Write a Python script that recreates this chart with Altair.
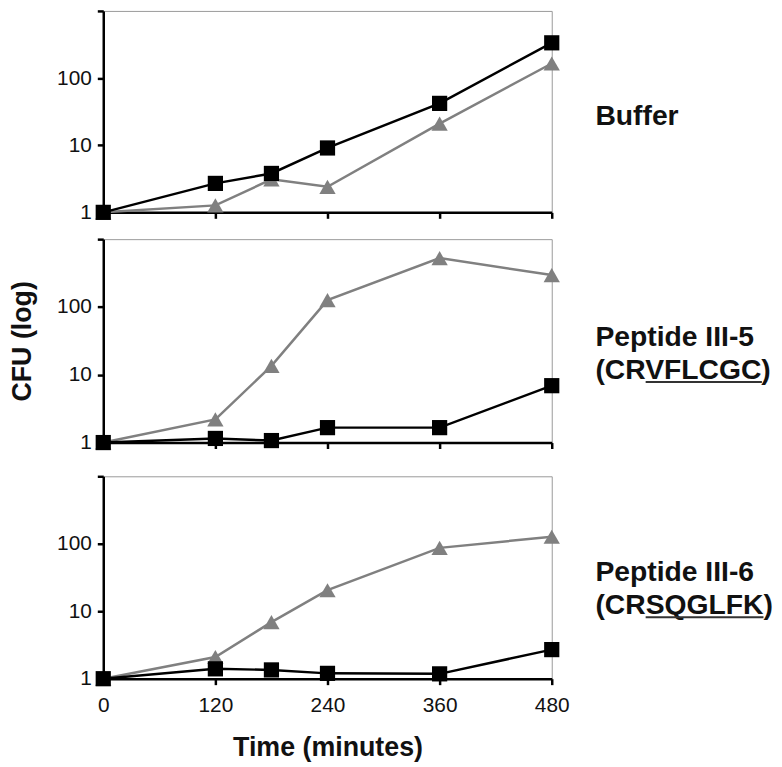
import altair as alt
import pandas as pd

times = [0, 120, 180, 240, 360, 480]
x_ticks = [0, 120, 240, 360, 480]
y_ticks = [1, 10, 100, 1000]

buffer_square = [1, 2.7, 3.8, 9.1, 42, 335]
buffer_triangle = [1, 1.27, 3.1, 2.4, 21, 165]
p35_square = [1, 1.15, 1.07, 1.66, 1.66, 6.9]
p35_triangle = [1, 2.2, 13.5, 126, 525, 295]
p36_square = [1, 1.4, 1.35, 1.2, 1.18, 2.7]
p36_triangle = [1, 2.1, 6.9, 20.5, 87, 127]

panel_names = ["Buffer", "Peptide III-5", "Peptide III-6"]
peptide_prefix = ["", "(CR", "(CR"]
peptide_underlined = ["", "VFLCGC", "SQGLFK"]
series = ["triangle", "square"]

FONT = "Liberation Sans"
FS = 28.5
W = 452
LH = 33

# Liberation Sans Bold advance widths (em) used to place the underline
BOLD_W = {"(": .333, ")": .333, "C": .722, "R": .722, "V": .667, "F": .611,
          "L": .611, "G": .778, "S": .667, "Q": .778, "K": .722}


def text_w(s):
    return sum(BOLD_W[c] for c in s) * FS


def panel(i, sq, tri, height, label_y, show_x, show_ytitle, spacer=None):
    df = pd.DataFrame({
        "time": times + times,
        "cfu": tri + sq,
        "series": [series[0]] * len(times) + [series[1]] * len(times),
    })
    x = alt.X("time:Q", scale=alt.Scale(domain=[0, 480], nice=False),
              axis=alt.Axis(values=x_ticks, labels=show_x, grid=False, labelFlush=False,
                            title="Time (minutes)" if show_x else None,
                            titleFontSize=27, titleFontWeight="bold", titleFont=FONT,
                            titleColor="#111", titlePadding=19,
                            labelFontSize=21, labelFont=FONT, labelColor="#111",
                            labelPadding=10,
                            domainColor="black", domainWidth=2.5,
                            tickColor="black", tickWidth=2.5, tickSize=6))
    y = alt.Y("cfu:Q", scale=alt.Scale(type="log", domain=[1, 1000], nice=False),
              axis=alt.Axis(values=y_ticks, grid=False, labelFlush=False,
                            labelExpr="datum.value >= 1000 ? '' : format(datum.value, 'd')",
                            title="CFU (log)",
                            titleOpacity=1 if show_ytitle else 0,
                            titleFontSize=27, titleFontWeight="bold", titleFont=FONT,
                            titleColor="#111", titlePadding=20,
                            labelFontSize=21, labelFont=FONT, labelColor="#111",
                            labelPadding=6,
                            domainColor="black", domainWidth=2.5,
                            tickColor="black", tickWidth=2.5, tickSize=6))
    color = alt.Color("series:N", scale=alt.Scale(domain=series, range=["#808080", "#000000"]), legend=None)
    shape = alt.Shape("series:N", scale=alt.Scale(domain=series, range=["triangle-up", "square"]), legend=None)
    size = alt.Size("series:N", scale=alt.Scale(domain=series, range=[270, 235]), legend=None)
    base = alt.Chart(df)
    lines = base.mark_line(strokeWidth=2.5).encode(x=x, y=y, color=color, detail="series:N", order="time:Q")
    pts = base.mark_point(filled=True, opacity=1).encode(x=x, y=y, color=color, shape=shape, size=size)

    if peptide_underlined[i]:
        label = panel_names[i] + "\n" + peptide_prefix[i] + peptide_underlined[i] + ")"
    else:
        label = panel_names[i]
    tdf = pd.DataFrame({"label": [label]})
    txt = alt.Chart(tdf).mark_text(
        align="left", baseline="alphabetic", font=FONT, fontSize=FS, fontWeight="bold",
        color="#111", lineBreak="\n", lineHeight=LH,
    ).encode(text="label:N", x=alt.value(W + 44), y=alt.value(label_y))
    layers = [lines, pts, txt]
    if peptide_underlined[i]:
        x1 = W + 44 + text_w(peptide_prefix[i])
        x2 = x1 + text_w(peptide_underlined[i])
        uy = label_y + LH + 3
        ul = alt.Chart(tdf).mark_rule(color="#333", strokeWidth=2).encode(
            x=alt.value(x1), x2=alt.value(x2), y=alt.value(uy))
        layers.append(ul)
    props = dict(width=W, height=height)
    if spacer is not None:
        props["title"] = alt.TitleParams(" ", fontSize=spacer, offset=0)
    return alt.layer(*layers).properties(**props)


p1 = panel(0, buffer_square, buffer_triangle, 203, 115, False, False)
p2 = panel(1, p35_square, p35_triangle, 205, 108, False, True)
p3 = panel(2, p36_square, p36_triangle, 204, 106, True, False, spacer=7)

chart = alt.vconcat(p1, p2, p3, spacing=14).properties(
    padding={"left": 0, "top": -2, "right": 0, "bottom": 0}
).configure_view(stroke="#9a9a9a", strokeWidth=1)

chart.save("out.html", embed_options={"renderer": "svg", "actions": False})
